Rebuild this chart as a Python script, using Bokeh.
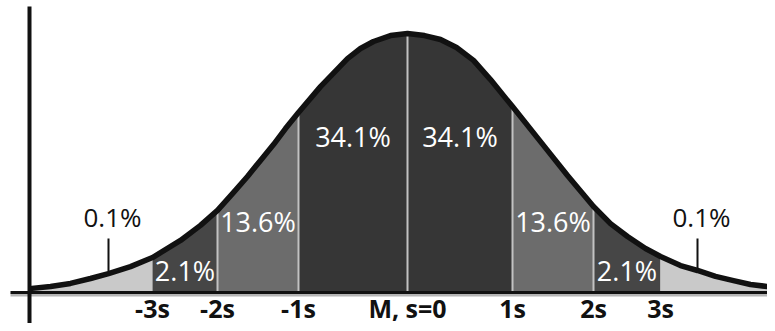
import numpy as np
from bokeh.plotting import figure
from bokeh.models import Range1d
from bokeh.core.properties import value
from bokeh.embed import file_html
from bokeh.resources import INLINE

# ---------------- data ----------------
# curve: x in s-like units (0 = mean), relative density (peak = 1)
curve_x = [-3.024, -2.856, -2.696, -2.536, -2.392, -2.216, -2.040, -1.816, -1.656,
           -1.520, -1.400, -1.280, -1.176, -1.072, -0.976, -0.872, -0.696, -0.480,
           -0.376, -0.272, -0.136, 0.000, 0.136, 0.264, 0.392, 0.528, 0.664, 0.840,
           1.088, 1.280, 1.488, 1.624, 1.760, 1.904, 2.024, 2.184, 2.320, 2.464,
           2.608, 2.744, 2.880, 2.944]
curve_y = [0.015, 0.023, 0.035, 0.054, 0.073, 0.100, 0.135, 0.201, 0.259,
           0.317, 0.382, 0.448, 0.510, 0.571, 0.633, 0.695, 0.795, 0.903,
           0.942, 0.969, 0.992, 1.000, 0.992, 0.977, 0.946, 0.896, 0.822, 0.718,
           0.568, 0.452, 0.332, 0.266, 0.216, 0.170, 0.139, 0.104, 0.085, 0.062,
           0.046, 0.031, 0.023, 0.019]
boundary_x = [-2.040, -1.520, -0.872, 0.000, 0.840, 1.488, 2.024]
tick_labels = ["-3s", "-2s", "-1s", "M, s=0", "1s", "2s", "3s"]
band_labels = ["2.1%", "13.6%", "34.1%", "34.1%", "13.6%", "2.1%"]
tail_labels = ["0.1%", "0.1%"]
tail_pointer_x = [-2.392, 2.320]

# ---------------- layout / style ----------------
W, H = 767, 323
PX_X, PX_Y = 125.0, 259.0          # pixels per unit
X0_PX, BASE_PX = 407.0, 292.0      # canvas position of x=0 and y=0
x_start, x_end = -X0_PX / PX_X, (W - X0_PX) / PX_X
y_start, y_end = -(H - BASE_PX) / PX_Y, BASE_PX / PX_Y

region_colors = ["#c9c9c9", "#464646", "#6c6c6c", "#363636",
                 "#363636", "#6c6c6c", "#464646", "#c9c9c9"]
TEXT_SHIFT = 12                     # px correction of rendered text baseline
band_label_px = [10, 59, 144, 144, 59, 10]
tail_label_px = 64
tick_label_px = -27
FONT = value("Open Sans")

p = figure(width=W, height=H, output_backend="svg", toolbar_location=None,
           x_range=Range1d(x_start, x_end), y_range=Range1d(y_start, y_end),
           min_border=0, outline_line_color=None, background_fill_color="white")
p.axis.visible = False
p.grid.visible = False

cx = np.array(curve_x)
cy = np.array(curve_y)

# filled regions
edges = [cx[0]] + boundary_x + [cx[-1]]
xs, ys = [], []
for lo, hi in zip(edges[:-1], edges[1:]):
    m = (cx >= lo - 1e-9) & (cx <= hi + 1e-9)
    xs.append([lo] + list(cx[m]) + [hi])
    ys.append([0.0] + list(cy[m]) + [0.0])
p.patches(xs, ys, fill_color=region_colors, line_color=None)

# separator lines
inner = boundary_x[1:-1]
p.segment(x0=inner, y0=[0.0] * len(inner), x1=inner,
          y1=list(np.interp(inner, cx, cy)), line_color="#c2c2c2", line_width=2)

# curve
p.line(cx, cy, line_color="#111111", line_width=5.5, line_join="round")

# axes lines
ax_left = (10 - X0_PX) / PX_X
p.segment(x0=[ax_left], y0=[-2.5 / PX_Y], x1=[x_end], y1=[-2.5 / PX_Y],
          line_color="#b5b5b5", line_width=3)
p.segment(x0=[ax_left], y0=[0.0], x1=[x_end], y1=[0.0],
          line_color="#111111", line_width=3)
p.segment(x0=[cx[0]], y0=[y_start], x1=[cx[0]], y1=[(BASE_PX - 6) / PX_Y],
          line_color="#111111", line_width=4)

# tail pointers
ptop = 54 / PX_Y
p.segment(x0=tail_pointer_x, y0=list(np.interp(tail_pointer_x, cx, cy)),
          x1=tail_pointer_x, y1=[ptop] * 2, line_color="#111111", line_width=2)

# band labels
mids = [(a + b) / 2 for a, b in zip(boundary_x[:-1], boundary_x[1:])]
p.text(x=mids, y=[(v + TEXT_SHIFT) / PX_Y for v in band_label_px], text=band_labels,
       text_color="white", text_font=FONT, text_font_size="27px",
       text_align="center", text_baseline="alphabetic")

# tail labels
p.text(x=[t + 4 / PX_X for t in tail_pointer_x],
       y=[(tail_label_px + TEXT_SHIFT) / PX_Y] * 2, text=tail_labels,
       text_color="#111111", text_font=FONT, text_font_size="26px",
       text_align="center", text_baseline="alphabetic")

# tick labels
p.text(x=boundary_x, y=[(tick_label_px + TEXT_SHIFT) / PX_Y] * len(boundary_x),
       text=tick_labels, text_color="#111111", text_font=FONT, text_font_size="25px",
       text_font_style="bold", text_align="center", text_baseline="alphabetic")

open("out.html", "w").write(file_html(p, INLINE))
